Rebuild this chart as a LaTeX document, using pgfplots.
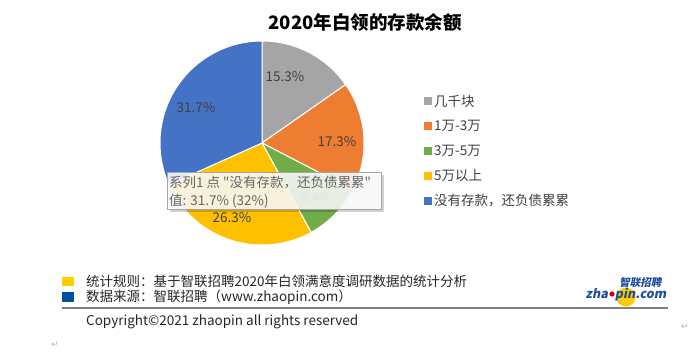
\documentclass[border=0pt]{standalone}
\usepackage{pgfplots}
\pgfplotsset{compat=1.18}
\usepackage{fontspec}
\setmainfont{Noto Sans CJK SC}[Ligatures=TeXOff]
\newfontfamily\dejavu{DejaVu Sans}
\definecolor{pgray}{HTML}{A5A5A5}
\definecolor{porange}{HTML}{ED7D31}
\definecolor{pgreen}{HTML}{70AD47}
\definecolor{pyellow}{HTML}{FFC000}
\definecolor{pblue}{HTML}{4472C4}
\definecolor{fyellow}{HTML}{FFCC00}
\definecolor{fblue}{HTML}{0050A0}
\definecolor{txt}{HTML}{404040}
\definecolor{logoblue}{HTML}{1F4E9E}
% data (percent), clockwise from 12 o'clock
\def\vA{15.3}\def\vB{17.3}\def\vC{9.4}\def\vD{26.3}\def\vE{31.7}
\pgfmathsetmacro\aA{90}
\pgfmathsetmacro\aB{\aA-3.6*\vA}
\pgfmathsetmacro\aC{\aB-3.6*\vB}
\pgfmathsetmacro\aD{\aC-3.6*\vC}
\pgfmathsetmacro\aE{\aD-3.6*\vD}
\pgfmathsetmacro\aF{\aE-3.6*\vE}
\begin{document}
\begin{tikzpicture}
\path[use as bounding box, fill=white] (0,0) rectangle (700pt,-352pt);
\begin{axis}[at={(262pt,-143pt)}, anchor=center, scale only axis,
  width=204pt, height=204pt, xmin=-1, xmax=1, ymin=-1, ymax=1,
  hide axis, clip=false]
\addplot[fill=pgray, draw=white, line width=1pt, domain=\aB:\aA, samples=60, variable=\t] ({cos(\t)},{sin(\t)}) -- (axis cs:0,0) -- cycle;
\addplot[fill=porange, draw=white, line width=1pt, domain=\aC:\aB, samples=60, variable=\t] ({cos(\t)},{sin(\t)}) -- (axis cs:0,0) -- cycle;
\addplot[fill=pgreen, draw=white, line width=1pt, domain=\aD:\aC, samples=40, variable=\t] ({cos(\t)},{sin(\t)}) -- (axis cs:0,0) -- cycle;
\addplot[fill=pyellow, draw=white, line width=1pt, domain=\aE:\aD, samples=80, variable=\t] ({cos(\t)},{sin(\t)}) -- (axis cs:0,0) -- cycle;
\addplot[fill=pblue, draw=white, line width=1pt, domain=\aF:\aE, samples=100, variable=\t] ({cos(\t)},{sin(\t)}) -- (axis cs:0,0) -- cycle;
\begin{scope}[every node/.style={font=\fontsize{13.5}{15}\selectfont, text=txt}]
\node at (axis cs:0.225,0.647) {15.3\%};
\node at (axis cs:0.735,0.01) {17.3\%};
\node at (axis cs:0.53,-0.53) {9.4\%};
\node at (axis cs:-0.294,-0.735) {26.3\%};
\node at (axis cs:-0.647,0.343) {31.7\%};
\end{scope}
\end{axis}
\begin{scope}[x=1pt,y=-1pt]
% title
\node[font=\fontsize{18.5}{20}\selectfont\bfseries] at (365,22) {2020年白领的存款余额};
% legend
\foreach \c/\t [count=\i from 0] in {pgray/几千块, porange/1万-3万, pgreen/3万-5万, pyellow/5万以上, pblue/{没有存款，还负债累累}}{
  \fill[\c] (424,{101+25*\i-3.8}) rectangle (431.5,{101+25*\i+3.8});
  \node[anchor=west, inner sep=0pt, text=txt, font=\fontsize{13.5}{15}\selectfont] at (434,{101+25*\i}) {\t};
}
% tooltip
\fill[black, opacity=0.18] (170,175) rectangle (384,212);
\fill[white, opacity=0.86] (167,172) rectangle (381,209);
\draw[gray!70, line width=0.6pt] (167,172) rectangle (381,209);
\node[anchor=west, inner sep=0pt, text=black!60, font=\fontsize{13.5}{15}\selectfont] at (169,183) {系列1 点 "没有存款，还负债累累"};
\node[anchor=west, inner sep=0pt, text=black!60, font=\fontsize{13.5}{15}\selectfont] at (169,201) {值: 31.7\% (32\%)};
% footer
\fill[fyellow] (62,277) rectangle (74,286);
\fill[fblue] (62,292) rectangle (74,302);
\node[anchor=west, inner sep=0pt, font=\fontsize{13.5}{15}\selectfont, text=black!85] at (86,281) {统计规则：基于智联招聘2020年白领满意度调研数据的统计分析};
\node[anchor=west, inner sep=0pt, font=\fontsize{13.5}{15}\selectfont, text=black!85] at (86,297) {数据来源：智联招聘（www.zhaopin.com）};
\draw[gray, line width=1.2pt] (62,308) -- (668,308);
\node[anchor=west, inner sep=0pt, font=\fontsize{13.5}{15}\selectfont, text=black!85] at (86,322) {Copyright©2021 zhaopin all rights reserved};
% logo
\fill[fyellow] (626,297) circle (9.5);
\fill[red!80!black] (612,294) circle (2.6);
\node[anchor=west, inner sep=0pt, font=\fontsize{12.5}{13}\selectfont\bfseries, text=logoblue, xslant=0.2] at (586,294.5) {zha\hspace{7pt}pin.com};
\node[anchor=west, inner sep=0pt, font=\fontsize{10.5}{11}\selectfont\bfseries, text=logoblue, xslant=0.2] at (620,283) {智联招聘};
% paragraph marks
\node[text=gray!60, font=\dejavu\fontsize{9}{10}\selectfont] at (685,327) {↵};
\node[text=gray!60, font=\dejavu\fontsize{9}{10}\selectfont] at (55,345) {↵};
\end{scope}
\end{tikzpicture}
\end{document}
